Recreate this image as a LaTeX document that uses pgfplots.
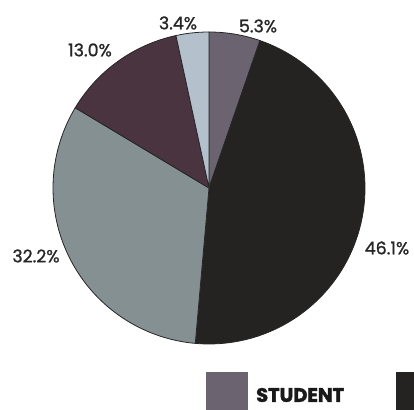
\documentclass[border=0pt]{standalone}
\usepackage{pgfplots}
\pgfplotsset{compat=1.18}
\usepackage{fontspec}
\setmainfont{Poppins}
\newfontfamily\labfont{Poppins}[FakeBold=1.1]
\newfontfamily\legfont{Poppins}[BoldFeatures={FakeBold=2.2}]
\definecolor{cA}{HTML}{6B6470}
\definecolor{cB}{HTML}{252322}
\definecolor{cC}{HTML}{859093}
\definecolor{cD}{HTML}{4A3440}
\definecolor{cE}{HTML}{B4C0CB}
% start (cumulative %), share (%), colour
\newcommand{\slice}[3]{%
  \addplot[fill=#3, draw=black!85, line width=0.8pt, line join=round,
    domain={90-3.6*(#1+#2)}:{90-3.6*#1}, samples=80, variable=\t]
    ({209+156*cos(\t)},{222+156*sin(\t)}) -- (axis cs:209,222) -- cycle;}
\begin{document}
\begin{tikzpicture}
\useasboundingbox (0,0) rectangle (414bp,410bp);
\clip (0,0) rectangle (414bp,410bp);
\begin{axis}[at={(0,0)}, anchor=south west, width=414bp, height=410bp,
  scale only axis, hide axis, clip=false,
  xmin=0, xmax=414, ymin=0, ymax=410]
\slice{0}{5.3}{cA}
\slice{5.3}{46.1}{cB}
\slice{51.4}{32.2}{cC}
\slice{83.6}{13.0}{cD}
\slice{96.6}{3.4}{cE}
\begin{scope}[every node/.style={font=\labfont\fontsize{17.5}{17.5}\selectfont, text=black!85, inner sep=0pt}]
\node at (axis cs:178,387) {3.4\%};
\node at (axis cs:258,384) {5.3\%};
\node at (axis cs:90,360) {13.0\%};
\node at (axis cs:36,154) {32.2\%};
\node at (axis cs:387,162) {46.1\%};
\end{scope}
\fill[cA] (axis cs:206,-5) rectangle (axis cs:248,38);
\node[anchor=west, inner sep=0pt, font=\legfont\fontsize{19.5}{19.5}\selectfont\bfseries, text=black!90] at (axis cs:256,15) {STUDENT};
\fill[cB] (axis cs:396,-5) rectangle (axis cs:440,38);
\end{axis}
\end{tikzpicture}
\end{document}
